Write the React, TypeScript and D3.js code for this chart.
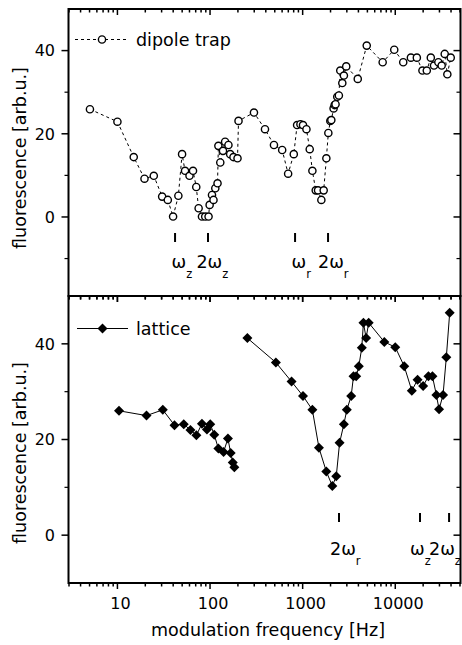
import * as d3 from "d3";

// dipole trap (open circles, dashed line)
const dipoleHz = [5.05, 10, 15, 19.6, 24.7, 30.4, 35, 39.9, 45.5, 49.9, 53.7, 60, 65.5, 71, 75.3, 81.8, 88.7, 96.4, 99, 105, 109, 114, 120.5, 123, 129, 138, 145.5, 158, 165, 179, 198, 203, 298, 392, 490, 601, 697, 802, 871, 946, 1009, 1099, 1192, 1274, 1384, 1466, 1592, 1687, 1803, 1894, 1990, 2040, 2158, 2215, 2266, 2364, 2461, 2547, 2680, 2789, 2955, 3936, 4919, 7311, 9750, 12190, 14750, 17100, 19650, 21900, 24200, 26200, 29200, 31700, 34200, 36500, 39700];
const dipoleSignal = [25.9, 22.9, 14.4, 9.2, 9.9, 4.9, 4.1, 0.1, 5.1, 15.1, 11.1, 9.9, 11.1, 7.2, 2.1, 0.1, 0.1, 0.1, 2.9, 5.3, 4.1, 6.9, 8.1, 17.1, 13.1, 15.9, 18.1, 17.3, 15.1, 14.4, 14.1, 23.1, 25.1, 21.1, 17.3, 16.1, 10.4, 15.1, 22.1, 22.3, 22.1, 21.1, 16.3, 11.1, 6.4, 6.4, 4.1, 6.4, 14.1, 20.2, 23.1, 23.3, 26.1, 26.9, 27.1, 28.9, 29.2, 35.2, 32.2, 34, 36.2, 33.2, 41.2, 37.2, 40.2, 37.2, 38.3, 38.3, 35.2, 35.2, 38.3, 36.4, 37.2, 36.4, 39.2, 34.3, 38.3];

// lattice (filled diamonds, solid line) - two separate scans
const latticeLowHz = [10.4, 20.6, 30.9, 41.3, 52, 61.4, 71.2, 81.8, 92.6, 100.5, 111, 123, 140, 156, 167, 176, 183];
const latticeLowSignal = [26, 25, 26.2, 23, 23.2, 22, 20.9, 23.3, 22.1, 23.2, 21, 18.1, 17.4, 20.2, 17.2, 15.2, 14.2];
const latticeHighHz = [253, 514, 759, 1009, 1273, 1500, 1802, 2090, 2306, 2505, 2786, 3000, 3342, 3540, 3785, 4040, 4350, 4530, 4845, 5165, 7620, 10000, 12500, 15100, 17400, 20000, 22800, 25200, 27800, 29700, 32800, 35600, 38700];
const latticeHighSignal = [41.2, 36.1, 32.1, 29.1, 26.2, 18.25, 13.3, 10.3, 12.3, 19.3, 23.2, 26.2, 29.1, 33.2, 33.2, 35.3, 39.2, 44.4, 41.2, 44.4, 40.4, 39.3, 35.3, 30.2, 32.5, 31.2, 33.2, 33.2, 29.3, 26.3, 29.3, 37.2, 46.5];

// resonance markers
const topMarkerHz = [41.9, 95, 828, 1880];
const topMarkerLabels = [["ω", "z"], ["2ω", "z"], ["ω", "r"], ["2ω", "r"]];
const bottomMarkerHz = [2470, 18500, 38100];
const bottomMarkerLabels = [["2ω", "r"], ["ω", "z"], ["2ω", "z"]];

const xTickLabels = [10, 100, 1000, 10000];
const yMajor = [0, 20, 40];

const W = 462;
const H = 645;
const left = 68.5;
const right = 460.5;
const top1 = 9;
const mid = 296;
const bot2 = 583;
const font = "DejaVu Sans, sans-serif";

const x = d3.scaleLog().domain([3, 50000]).range([69, 460]);
const yTop = d3.scaleLinear().domain([-19, 50]).range([mid, top1]);
const yBot = d3.scaleLinear().domain([-10, 50]).range([bot2, mid]);

const isMajor = (v: number) => Math.abs(Math.log10(v) - Math.round(Math.log10(v))) < 1e-6;

function Frame({ y, t, b, minor }: any) {
  const xt = x.ticks().filter((v) => v >= 3 && v <= 50000);
  return (
    <g stroke="black" fill="none">
      <rect x={left} y={t} width={right - left} height={b - t} strokeWidth={2} />
      {xt.map((v) => {
        const len = isMajor(v) ? 6 : 3.5;
        return (
          <g key={v}>
            <line x1={x(v)} x2={x(v)} y1={t} y2={t + len} strokeWidth={1.5} />
            <line x1={x(v)} x2={x(v)} y1={b} y2={b + len} strokeWidth={1.5} />
          </g>
        );
      })}
      {yMajor.map((v) => (
        <g key={v}>
          <line x1={left - 7} x2={left} y1={y(v)} y2={y(v)} strokeWidth={1.5} />
          <line x1={right - 7} x2={right} y1={y(v)} y2={y(v)} strokeWidth={1.5} />
        </g>
      ))}
      {minor.map((v: number) => (
        <g key={v}>
          <line x1={left - 4} x2={left} y1={y(v)} y2={y(v)} strokeWidth={1.2} />
          <line x1={right - 4} x2={right} y1={y(v)} y2={y(v)} strokeWidth={1.2} />
        </g>
      ))}
      {yMajor.map((v) => (
        <text key={"l" + v} x={55} y={y(v)} dy="0.36em" textAnchor="end" fontSize={16}
          fontFamily={font} fill="black" stroke="none">{v}</text>
      ))}
    </g>
  );
}

function Markers({ hz, labels, y1, y2, base, offs }: any) {
  return (
    <g>
      {hz.map((f: number, i: number) => (
        <g key={i}>
          <line x1={x(f)} x2={x(f)} y1={y1} y2={y2} stroke="black" strokeWidth={2} />
          <text x={x(f) + offs[i]} y={base} fontSize={17.5} fontFamily={font} fill="black">
            {labels[i][0]}
            <tspan dy={10} fontSize={11.5}>{labels[i][1]}</tspan>
          </text>
        </g>
      ))}
    </g>
  );
}

export default function App() {
  const dipolePts = dipoleHz.map((f, i) => [x(f), yTop(dipoleSignal[i])] as [number, number]);
  const lowPts = latticeLowHz.map((f, i) => [x(f), yBot(latticeLowSignal[i])] as [number, number]);
  const highPts = latticeHighHz.map((f, i) => [x(f), yBot(latticeHighSignal[i])] as [number, number]);
  const line = d3.line();
  const diamond = d3.symbol().type(d3.symbolSquare).size(50)() as string;

  return (
    <svg width={W} height={H} style={{ position: "absolute", left: 0, top: 0, background: "white" }}>
      <rect width={W} height={H} fill="white" />
      <Frame y={yTop} t={top1} b={mid} minor={[-10, 10, 30]} />
      <Frame y={yBot} t={mid} b={bot2} minor={[10, 30]} />

      {/* dipole trap */}
      <path d={line(dipolePts) as string} fill="none" stroke="black" strokeWidth={1} strokeDasharray="3,3" />
      {dipolePts.map((p, i) => (
        <circle key={i} cx={p[0]} cy={p[1]} r={3.6} fill="white" stroke="black" strokeWidth={1.4} />
      ))}

      {/* lattice */}
      <path d={line(lowPts) as string} fill="none" stroke="black" strokeWidth={1} />
      <path d={line(highPts) as string} fill="none" stroke="black" strokeWidth={1} />
      {[...lowPts, ...highPts].map((p, i) => (
        <path key={i} d={diamond} transform={`translate(${p[0]},${p[1]}) rotate(45)`} fill="black" />
      ))}

      {/* legends */}
      <line x1={75} x2={128} y1={39.5} y2={39.5} stroke="black" strokeWidth={1} strokeDasharray="3,3" />
      <circle cx={102} cy={39.5} r={3.6} fill="white" stroke="black" strokeWidth={1.4} />
      <text x={136} y={45.5} fontSize={17.5} fontFamily={font}>dipole trap</text>
      <line x1={77} x2={128} y1={328.5} y2={328.5} stroke="black" strokeWidth={1} />
      <path d={diamond} transform="translate(102.5,328.5) rotate(45)" fill="black" />
      <text x={136} y={334.5} fontSize={17.5} fontFamily={font}>lattice</text>

      {/* resonance markers */}
      <Markers hz={topMarkerHz} labels={topMarkerLabels} y1={233} y2={242} base={268} offs={[-3.5, -11.5, -3.5, -10]} />
      <Markers hz={bottomMarkerHz} labels={bottomMarkerLabels} y1={513} y2={522} base={555} offs={[-9, -10, -20]} />

      {/* x tick labels */}
      {xTickLabels.map((v) => (
        <text key={v} x={x(v) + 3} y={609} textAnchor="middle" fontSize={16} fontFamily={font}>{v}</text>
      ))}
      <text x={268} y={636} textAnchor="middle" fontSize={17.5} fontFamily={font}>modulation frequency [Hz]</text>
      <text transform="translate(25.5,158) rotate(-90)" textAnchor="middle" fontSize={17.5} fontFamily={font}>fluorescence [arb.u.]</text>
      <text transform="translate(25.5,453) rotate(-90)" textAnchor="middle" fontSize={17.5} fontFamily={font}>fluorescence [arb.u.]</text>
    </svg>
  );
}
